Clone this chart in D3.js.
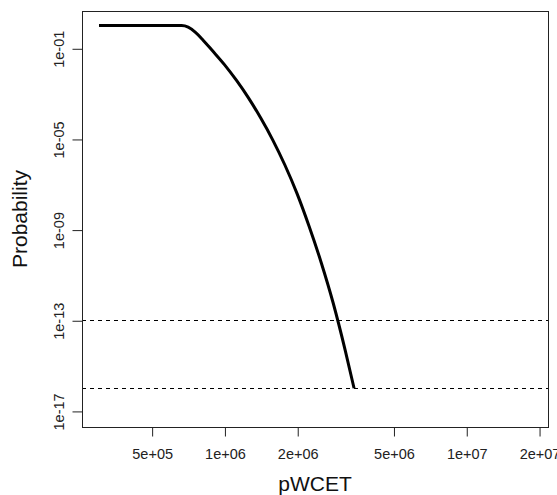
<!DOCTYPE html>
<html>
<head>
<meta charset="utf-8">
<script src="https://cdn.jsdelivr.net/npm/d3@7"></script>
<style>
  html, body { margin: 0; padding: 0; background: #fff; }
  svg { display: block; font-family: "Liberation Sans", Arial, sans-serif; }
</style>
</head>
<body>
<svg id="chart" width="557" height="495"></svg>
<script>
// Data
const pwcet = [3.03e5, 6.65e5, 7.08e5, 7.59e5, 8.13e5, 8.91e5, 1.0e6, 1.122e6, 1.259e6, 1.413e6, 1.585e6, 1.778e6, 1.995e6, 2.239e6, 2.512e6, 2.818e6, 3.162e6, 3.436e6];
const probability = [1, 1, 0.851, 0.501, 0.240, 0.0794, 0.0191, 3.80e-3, 6.31e-4, 8.32e-5, 8.91e-6, 7.08e-7, 3.98e-8, 1.41e-9, 3.55e-11, 5.62e-13, 4.47e-15, 1e-16];
const thresholds = [1e-13, 1e-16];
const xTicks = [5e5, 1e6, 2e6, 5e6, 1e7, 2e7];
const xTickLabels = ["5e+05", "1e+06", "2e+06", "5e+06", "1e+07", "2e+07"];
const yTicks = [1e-1, 1e-5, 1e-9, 1e-13, 1e-17];
const yTickLabels = ["1e-01", "1e-05", "1e-09", "1e-13", "1e-17"];
const xDomain = [Math.pow(10, 5.411), Math.pow(10, 7.338)];
const yDomain = [Math.pow(10, -17.71), Math.pow(10, 0.645)];

const svg = d3.select("#chart");
const L = 82, R = 548, T = 11, B = 427;
const tickFont = 14.5;

const x = d3.scaleLog().domain(xDomain).range([L, R]);
const y = d3.scaleLog().domain(yDomain).range([B, T]);

// threshold lines
svg.append("g").selectAll("line").data(thresholds).join("line")
  .attr("x1", L).attr("x2", R)
  .attr("y1", d => Math.round(y(d)) + 0.5).attr("y2", d => Math.round(y(d)) + 0.5)
  .attr("stroke", "#000").attr("stroke-width", 1)
  .attr("stroke-dasharray", "4,4");

// curve
const line = d3.line().x((d, i) => x(pwcet[i])).y(d => y(d)).curve(d3.curveMonotoneX);
svg.append("path").datum(probability)
  .attr("d", line)
  .attr("fill", "none").attr("stroke", "#000").attr("stroke-width", 3)
  .attr("stroke-linejoin", "round");

// box
svg.append("rect").attr("x", L + 0.5).attr("y", T + 0.5)
  .attr("width", R - L).attr("height", B - T)
  .attr("fill", "none").attr("stroke", "#222").attr("stroke-width", 1);

// x axis
const xAxis = d3.axisBottom(x).tickValues(xTicks)
  .tickFormat((d, i) => xTickLabels[i]).tickSize(9).tickPadding(12.5);
const gx = svg.append("g").attr("transform", `translate(0.5,${B + 0.5})`).call(xAxis);
gx.select(".domain").remove();
gx.selectAll("line").attr("stroke", "#222");
gx.selectAll("text").attr("font-size", tickFont).attr("fill", "#222")
  .attr("font-family", "'Liberation Sans', Arial, sans-serif");

// y axis
const yAxis = d3.axisLeft(y).tickValues(yTicks)
  .tickFormat((d, i) => yTickLabels[i]).tickSize(10).tickPadding(0);
const gy = svg.append("g").attr("transform", `translate(${L + 0.5},0.5)`).call(yAxis);
gy.select(".domain").remove();
gy.selectAll("line").attr("stroke", "#222");
gy.selectAll("text")
  .attr("font-size", tickFont).attr("fill", "#222")
  .attr("font-family", "'Liberation Sans', Arial, sans-serif")
  .attr("x", null).attr("dy", null)
  .attr("text-anchor", "middle")
  .attr("transform", "translate(-19,0) rotate(-90)");

// axis titles
svg.append("text").attr("x", (L + R) / 2).attr("y", 491)
  .attr("text-anchor", "middle").attr("font-size", 21).attr("fill", "#111")
  .text("pWCET");
svg.append("text")
  .attr("transform", `translate(27,${(T + B) / 2}) rotate(-90)`)
  .attr("text-anchor", "middle").attr("font-size", 21).attr("fill", "#111")
  .text("Probability");
</script>
</body>
</html>
